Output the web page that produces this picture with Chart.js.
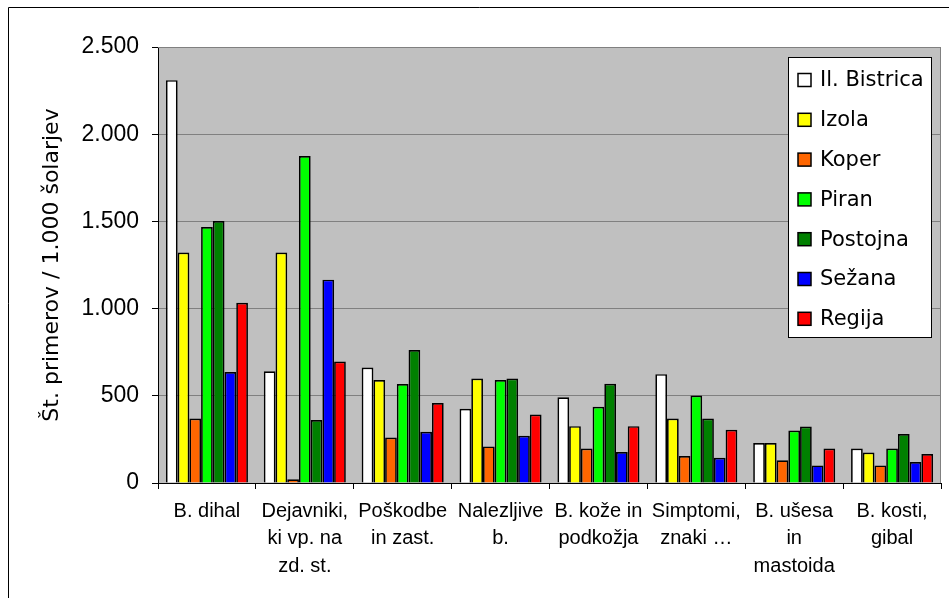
<!DOCTYPE html>
<html>
<head>
<meta charset="utf-8">
<script src="https://cdn.jsdelivr.net/npm/chart.js@4/dist/chart.umd.min.js"></script>
<style>
html,body{margin:0;padding:0;background:#fff;}
#wrap{position:relative;width:949px;height:598px;}
canvas{display:block;}
</style>
</head>
<body>
<div id="wrap"><canvas id="c" width="949" height="598"></canvas></div>
<script>
const categories = [
  "B. dihal",
  ["Dejavniki,", "ki vp. na", "zd. st."],
  ["Poškodbe", "in zast."],
  ["Nalezljive", "b."],
  ["B. kože in", "podkožja"],
  ["Simptomi,", "znaki …"],
  ["B. ušesa", "in", "mastoida"],
  ["B. kosti,", "gibal"]
];
const seriesNames = ["Il. Bistrica", "Izola", "Koper", "Piran", "Postojna", "Sežana", "Regija"];
const ilBistrica = [2310, 641, 662, 426, 492, 624, 229, 198];
const izola      = [1321, 1321, 590, 599, 326, 370, 229, 175];
const koper      = [370, 21, 261, 210, 198, 155, 130, 101];
const piran      = [1468, 1875, 567, 590, 437, 502, 301, 198];
const postojna   = [1502, 361, 763, 599, 569, 370, 324, 281];
const sezana     = [636, 1166, 294, 271, 178, 145, 101, 120];
const regija     = [1033, 697, 458, 393, 326, 305, 198, 166];
const yTicks = [0, 500, 1000, 1500, 2000, 2500];
const yTitle = "Št. primerov / 1.000 šolarjev";

const seriesValues = [ilBistrica, izola, koper, piran, postojna, sezana, regija];
const colors = ["#FFFFFF", "#FFFF00", "#FF6600", "#00FF00", "#008000", "#0000FF", "#FF0000"];

const fmt = v => v.toLocaleString('de-DE');

const plotBg = {
  id: 'plotBg',
  beforeDraw(chart) {
    const {ctx, chartArea: a} = chart;
    ctx.save();
    ctx.fillStyle = '#C0C0C0';
    ctx.fillRect(a.left, a.top, a.right - a.left, a.bottom - a.top);
    ctx.restore();
    ctx.save();
    ctx.strokeStyle = '#000';
    ctx.lineWidth = 1;
    ctx.beginPath();
    ctx.moveTo(8.5, 600);
    ctx.lineTo(8.5, 7.5);
    ctx.lineTo(960, 7.5);
    ctx.stroke();
    ctx.restore();
  },
  beforeDatasetsDraw(chart) {
    const {ctx, chartArea: a} = chart;
    ctx.save();
    ctx.strokeStyle = '#808080';
    ctx.lineWidth = 1;
    ctx.beginPath();
    ctx.moveTo(a.left, a.top + 0.5);
    ctx.lineTo(a.right - 0.5, a.top + 0.5);
    ctx.lineTo(a.right - 0.5, a.bottom);
    ctx.stroke();
    ctx.restore();
  },
  afterDraw(chart) {
    const ctx = chart.ctx;
    const a = chart.chartArea;
    ctx.save();
    ctx.translate(52, (a.top + a.bottom) / 2);
    ctx.rotate(-Math.PI / 2);
    ctx.fillStyle = '#000';
    ctx.font = '22px "DejaVu Sans", sans-serif';
    ctx.textAlign = 'center';
    ctx.textBaseline = 'middle';
    ctx.fillText(yTitle, 0, 0);
    ctx.restore();
    const lx = 788, ly = 57, lw = 143, lh = 280;
    ctx.save();
    ctx.fillStyle = '#FFFFFF';
    ctx.fillRect(lx, ly, lw, lh);
    ctx.strokeStyle = '#000';
    ctx.lineWidth = 1;
    ctx.strokeRect(lx + 0.5, ly + 0.5, lw, lh);
    ctx.font = '21px "DejaVu Sans", sans-serif';
    ctx.textBaseline = 'middle';
    ctx.textAlign = 'left';
    chart.data.datasets.forEach((ds, i) => {
      const cy = 80 + i * 39.8;
      ctx.fillStyle = ds.backgroundColor;
      ctx.fillRect(798, cy - 6.5, 13, 13);
      ctx.strokeStyle = '#000';
      ctx.lineWidth = 1.5;
      ctx.strokeRect(798, cy - 6.5, 13, 13);
      ctx.fillStyle = '#000';
      ctx.fillText(ds.label, 820, cy + 1);
    });
    ctx.restore();
  }
};

new Chart(document.getElementById('c'), {
  type: 'bar',
  data: {
    labels: categories,
    datasets: seriesNames.map((name, i) => ({
      label: name,
      data: seriesValues[i],
      backgroundColor: colors[i],
      borderColor: '#000000',
      borderWidth: 1.7,
      borderSkipped: 'bottom',
      barPercentage: 1.0,
      categoryPercentage: 0.838
    }))
  },
  options: {
    responsive: false,
    animation: false,
    devicePixelRatio: 1,
    layout: { padding: { left: 0, top: 47, right: 8, bottom: 0 } },
    plugins: {
      legend: { display: false },
      tooltip: { enabled: false }
    },
    scales: {
      x: {
        grid: {
          display: true,
          drawOnChartArea: false,
          drawTicks: true,
          tickLength: 6,
          tickColor: '#000',
          offset: true
        },
        border: { display: true, color: '#000', width: 1 },
        ticks: {
          color: '#000',
          font: { family: '"Liberation Sans", Arial, sans-serif', size: 20, lineHeight: 1.36 },
          maxRotation: 0,
          minRotation: 0,
          autoSkip: false,
          padding: 9
        },
        afterFit(s) { s.height = 115; }
      },
      y: {
        min: 0,
        max: 2500,
        afterBuildTicks(s) { s.ticks = yTicks.map(v => ({ value: v })); },
        grid: {
          color: '#808080',
          lineWidth: 1,
          drawTicks: true,
          tickLength: 6,
          tickColor: '#000'
        },
        border: { display: true, color: '#000', width: 1 },
        ticks: {
          color: '#000',
          font: { family: '"Liberation Sans", Arial, sans-serif', size: 23 },
          padding: 13,
          callback: v => fmt(v)
        },
        afterFit(s) { s.width = 158; }
      }
    }
  },
  plugins: [plotBg]
});
</script>
</body>
</html>
